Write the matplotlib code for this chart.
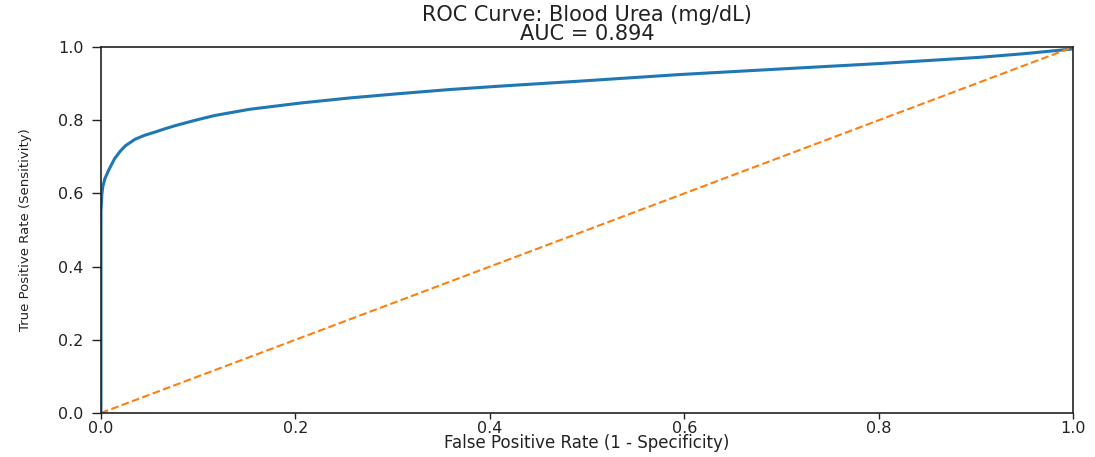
import matplotlib
matplotlib.use("Agg")
import matplotlib.pyplot as plt

# ROC operating points for blood urea as a predictor
fpr = [0.0, 0.0, 0.001, 0.002, 0.004, 0.008, 0.014, 0.02, 0.025, 0.035,
       0.045, 0.056, 0.065, 0.076, 0.097, 0.117, 0.153, 0.205, 0.256,
       0.308, 0.359, 0.409, 0.493, 0.596, 0.698, 0.801, 0.904, 0.95, 1.0]
tpr = [0.0, 0.55, 0.60, 0.62, 0.64, 0.664, 0.695, 0.716, 0.73, 0.748,
       0.759, 0.768, 0.776, 0.785, 0.80, 0.813, 0.83, 0.847, 0.861,
       0.873, 0.884, 0.893, 0.907, 0.925, 0.94, 0.955, 0.972, 0.982, 0.995]
auc_value = 0.894
marker_name = "Blood Urea (mg/dL)"

# chance diagonal
chance_x = [0.0, 1.0]
chance_y = [0.0, 1.0]

x_ticks = [0.0, 0.2, 0.4, 0.6, 0.8, 1.0]
y_ticks = [0.0, 0.2, 0.4, 0.6, 0.8, 1.0]

fig = plt.figure(figsize=(10.95, 4.57), dpi=100)
ax = fig.add_axes([0.0922, 0.0963, 0.8878, 0.8007])

ax.plot(fpr, tpr, color="#1f77b4", lw=2.2, solid_capstyle="round",
        solid_joinstyle="round")
ax.plot(chance_x, chance_y, color="#ff7f0e", lw=1.5, linestyle="--")

ax.set_xlim(0, 1)
ax.set_ylim(0, 1)
ax.set_xticks(x_ticks)
ax.set_yticks(y_ticks)
ax.set_xticklabels([f"{v:.1f}" for v in x_ticks], fontsize=11.5)
ax.set_yticklabels([f"{v:.1f}" for v in y_ticks], fontsize=11.5)
ax.tick_params(axis="x", length=4, width=1.0, pad=1.5, colors="#222222")
ax.tick_params(axis="y", length=6.5, width=1.0, pad=6, colors="#222222")

for side in ax.spines.values():
    side.set_linewidth(1.2)
    side.set_color("#222222")

ax.set_title(f"ROC Curve: {marker_name}\nAUC = {auc_value:.3f}",
             fontsize=15, linespacing=0.95, pad=5, color="#222222")
ax.set_xlabel("False Positive Rate (1 - Specificity)", fontsize=12,
              labelpad=-1, color="#222222")
ax.set_ylabel("True Positive Rate (Sensitivity)", fontsize=9.5,
              labelpad=19, color="#222222")

fig.savefig("out.png", dpi=100, facecolor="white")
